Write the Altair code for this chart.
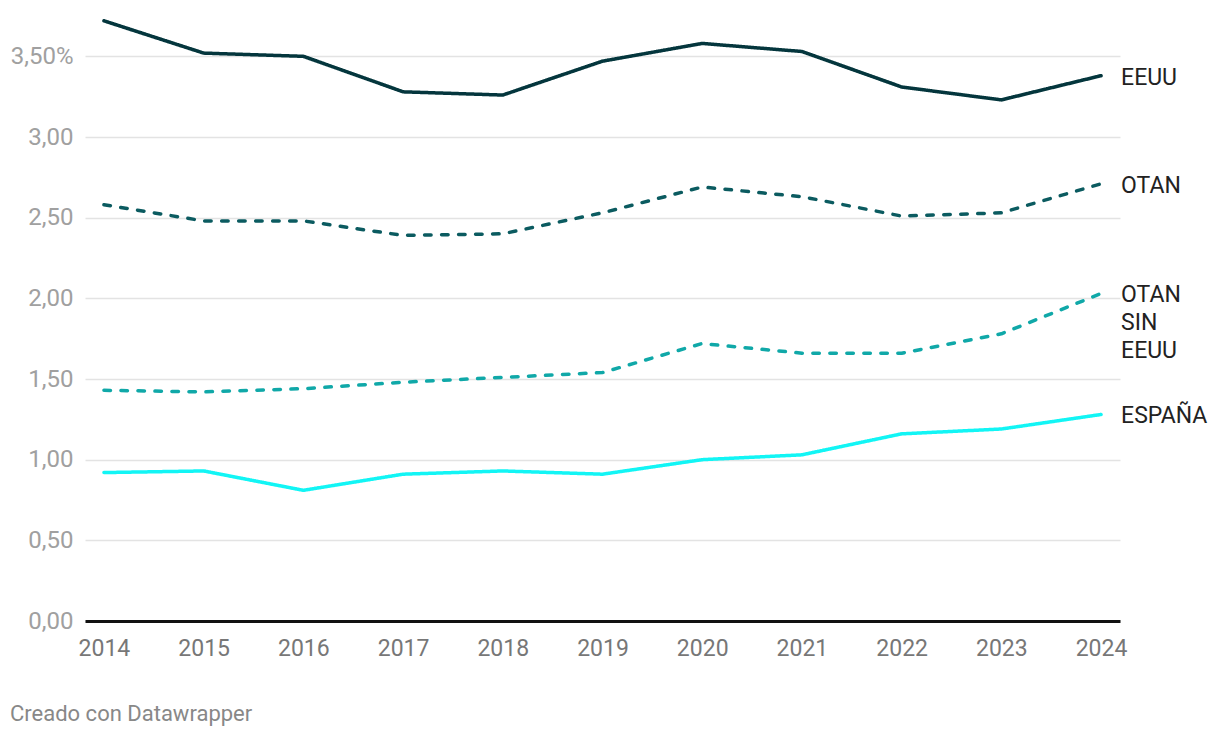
import altair as alt
import pandas as pd

years = list(range(2014, 2025))
eeuu = [3.72, 3.52, 3.50, 3.28, 3.26, 3.47, 3.58, 3.53, 3.31, 3.23, 3.38]
otan = [2.58, 2.48, 2.48, 2.39, 2.40, 2.53, 2.69, 2.63, 2.51, 2.53, 2.71]
otan_sin = [1.43, 1.42, 1.44, 1.48, 1.51, 1.54, 1.72, 1.66, 1.66, 1.78, 2.03]
espana = [0.92, 0.93, 0.81, 0.91, 0.93, 0.91, 1.00, 1.03, 1.16, 1.19, 1.28]

series_names = ["EEUU", "OTAN", "OTAN sin EEUU", "España"]
label_texts = ["EEUU", "OTAN", "OTAN\nSIN\nEEUU", "ESPAÑA"]
colors = ["#04363d", "#0b5b60", "#10a8a8", "#12f5f5"]
dashes = [[1, 0], [6.5, 10.5], [6.5, 10.5], [1, 0]]
y_ticks = [0, 0.5, 1, 1.5, 2, 2.5, 3, 3.5]
credit = "Creado con Datawrapper"

all_values = [eeuu, otan, otan_sin, espana]
rows = []
for name, vals in zip(series_names, all_values):
    for yr, v in zip(years, vals):
        rows.append({"year": yr, "value": v, "series": name})
df = pd.DataFrame(rows)

labels_df = pd.DataFrame({
    "year": [years[-1]] * 4,
    "value": [v[-1] for v in all_values],
    "series": series_names,
    "text": label_texts,
})

xscale = alt.Scale(domain=[2013.81, 2024.19], nice=False, zero=False)
yscale = alt.Scale(domain=[0, 3.75], nice=False)

lines = alt.Chart(df).mark_line(strokeWidth=3.5, strokeCap="round", strokeJoin="round").encode(
    x=alt.X("year:Q", scale=xscale,
            axis=alt.Axis(values=years, format="d", title=None, ticks=False, grid=False,
                          domain=True, domainColor="#111111", domainWidth=3,
                          labelFontSize=23, labelColor="#777777", labelFont="Roboto",
                          labelPadding=16, labelFlush=False)),
    y=alt.Y("value:Q", scale=yscale,
            axis=alt.Axis(values=y_ticks, title=None, ticks=False, domain=False,
                          grid=True, gridColor="#e3e3e3", gridWidth=1.5,
                          labelFontSize=24, labelColor="#a0a0a0", labelFont="Roboto",
                          labelPadding=12,
                          labelExpr="datum.value == 3.5 ? '3,50%' : replace(format(datum.value, '.2f'), '.', ',')")),
    color=alt.Color("series:N", scale=alt.Scale(domain=series_names, range=colors), legend=None),
    strokeDash=alt.StrokeDash("series:N", scale=alt.Scale(domain=series_names, range=dashes), legend=None),
    detail="series:N",
)

labels = alt.Chart(labels_df).mark_text(
    align="left", baseline="alphabetic", dx=20, dy=9, lineBreak="\n", lineHeight=28,
    fontSize=23, color="#222222", font="Roboto"
).encode(
    x=alt.X("year:Q", scale=xscale),
    y=alt.Y("value:Q", scale=yscale),
    text="text:N",
)

credit_layer = alt.Chart(pd.DataFrame({"t": [credit]})).mark_text(
    align="left", baseline="middle", fontSize=22, color="#888888", font="Roboto"
).encode(
    x=alt.value(-75), y=alt.value(698), text="t:N"
)

chart = alt.layer(lines, labels, credit_layer).properties(
    width=1035, height=605,
    autosize=alt.AutoSizeParams(type="none"),
    padding={"left": 77, "top": 8, "right": 92, "bottom": 112},
).configure(background="white").configure_view(stroke=None)

chart.save("out.html", embed_options={"renderer": "svg", "actions": False})
